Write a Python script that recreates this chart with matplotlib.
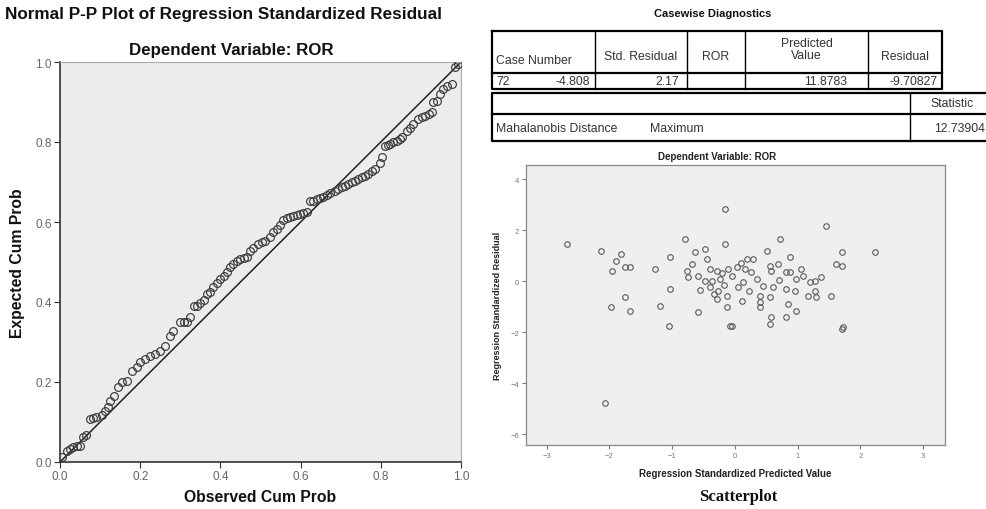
import matplotlib
matplotlib.use("Agg")
import matplotlib.pyplot as plt

plt.rcParams['font.family'] = ['Liberation Sans', 'DejaVu Sans']

# normal P-P plot
pp_observed = [0.004, 0.017, 0.025, 0.033, 0.042, 0.050, 0.058, 0.064, 0.075, 0.083,
               0.091, 0.104, 0.112, 0.119, 0.125, 0.135, 0.145, 0.154, 0.166, 0.179,
               0.191, 0.200, 0.212, 0.224, 0.237, 0.249, 0.262, 0.274, 0.283, 0.299,
               0.308, 0.316, 0.324, 0.333, 0.341, 0.349, 0.358, 0.366, 0.374, 0.382,
               0.391, 0.399, 0.408, 0.416, 0.424, 0.432, 0.441, 0.449, 0.458, 0.466,
               0.474, 0.482, 0.495, 0.503, 0.511, 0.524, 0.532, 0.540, 0.548, 0.557,
               0.565, 0.574, 0.582, 0.590, 0.599, 0.607, 0.615, 0.623, 0.632, 0.640,
               0.648, 0.657, 0.665, 0.673, 0.686, 0.694, 0.702, 0.711, 0.719, 0.727,
               0.736, 0.744, 0.752, 0.761, 0.769, 0.778, 0.786, 0.798, 0.802, 0.810,
               0.818, 0.823, 0.831, 0.840, 0.848, 0.852, 0.865, 0.873, 0.881, 0.894,
               0.902, 0.910, 0.919, 0.927, 0.931, 0.939, 0.948, 0.956, 0.965, 0.977,
               0.985, 0.993]
pp_expected = [0.012, 0.028, 0.033, 0.037, 0.039, 0.041, 0.062, 0.068, 0.108, 0.109,
               0.112, 0.118, 0.128, 0.138, 0.153, 0.166, 0.187, 0.199, 0.203, 0.228,
               0.237, 0.249, 0.258, 0.264, 0.270, 0.278, 0.291, 0.316, 0.328, 0.349,
               0.349, 0.350, 0.362, 0.389, 0.391, 0.397, 0.404, 0.420, 0.426, 0.437,
               0.447, 0.458, 0.465, 0.476, 0.487, 0.495, 0.503, 0.508, 0.510, 0.512,
               0.528, 0.534, 0.545, 0.549, 0.553, 0.562, 0.574, 0.583, 0.592, 0.605,
               0.609, 0.612, 0.616, 0.618, 0.620, 0.623, 0.625, 0.652, 0.653, 0.657,
               0.659, 0.662, 0.667, 0.672, 0.678, 0.683, 0.687, 0.691, 0.695, 0.699,
               0.703, 0.708, 0.712, 0.716, 0.720, 0.727, 0.733, 0.748, 0.762, 0.791,
               0.793, 0.795, 0.799, 0.803, 0.808, 0.812, 0.828, 0.836, 0.845, 0.858,
               0.862, 0.866, 0.870, 0.874, 0.899, 0.903, 0.920, 0.932, 0.941, 0.945,
               0.987, 0.995]
pp_ticks = [0.0, 0.2, 0.4, 0.6, 0.8, 1.0]

# residuals vs predicted scatter
sc_predicted = [-2.68, -2.13, -1.81, -1.89, -1.75, -1.67, -1.96, -1.75, -1.97, -1.67,
                -1.28, -1.04, -1.20, -1.04, -1.05, -0.59, -0.80, -0.64, -0.48, -0.44,
                -0.69, -0.77, -0.75, -0.59, -0.40, -0.29, -0.37, -0.48, -0.24, -0.40,
                -0.27, -0.29, -0.13, -0.13, -0.11, -0.16, -0.16, -0.08, 0.72, 0.51,
                0.19, 0.29, 0.88, 0.03, 0.16, 0.56, 0.69, 0.58, 0.82, 0.88,
                1.06, 1.09, 0.98, 1.20, 1.28, 1.38, 0.35, 0.13, 0.45, 0.61,
                0.82, 0.96, 1.16, 1.28, 1.30, 1.54, 0.40, 0.56, 0.40, 0.11,
                0.85, 0.98, 0.40, 0.58, 0.56, 0.82, -0.05, 1.73, 1.46, 1.70,
                2.23, 1.62, 1.70, -2.07, 1.70, -0.20, -0.05, 0.05, -0.18, 0.25,
                -0.33, 0.22, -0.55, 0.70, 0.10]
sc_residual = [1.45, 1.19, 1.06, 0.80, 0.55, 0.55, 0.40, -0.63, -1.02, -1.16,
               0.47, 0.94, -0.97, -0.31, -1.76, -1.22, 1.65, 1.13, 1.25, 0.86,
               0.67, 0.40, 0.16, 0.20, 0.47, 0.40, 0.01, 0.01, 0.08, -0.24,
               -0.38, -0.71, -0.58, -1.02, 0.47, 1.45, 2.82, -1.75, 1.65, 1.19,
               0.86, 0.86, 0.94, 0.55, 0.47, 0.60, 0.67, 0.40, 0.35, 0.35,
               0.47, 0.21, 0.08, -0.04, 0.01, 0.16, 0.08, -0.04, -0.18, -0.24,
               -0.31, -0.38, -0.58, -0.38, -0.63, -0.58, -0.58, -0.63, -0.82, -0.77,
               -0.90, -1.16, -1.02, -1.42, -1.69, -1.42, -1.75, -1.81, 2.17, 1.13,
               1.13, 0.67, 0.60, -4.80, -1.88, 0.30, 0.20, -0.25, -0.15, 0.35,
               -0.50, -0.40, -0.35, 0.05, 0.70]
sc_xticks = [-3, -2, -1, 0, 1, 2, 3]
sc_yticks = [-6, -4, -2, 0, 2, 4]

# tables
case_header = ["Case Number", "Std. Residual", "ROR", "Predicted\nValue", "Residual"]
case_row = ["72", "-4.808", "2.17", "11.8783", "-9.70827"]
stat_header = ["", "Statistic"]
stat_label = ["Mahalanobis Distance", "Maximum"]
stat_value = "12.73904"

W, H = 986, 510
fig = plt.figure(figsize=(W / 100, H / 100), dpi=100)
fig.patch.set_facecolor("white")

# overlay in pixel coords for text and tables
ov = fig.add_axes([0, 0, 1, 1])
ov.set_xlim(0, W)
ov.set_ylim(H, 0)
ov.axis("off")

# ---- P-P plot ----
ax = fig.add_axes([60 / W, 1 - 463 / H, 401 / W, 400 / H])
ax.set_facecolor("#ececec")
ax.plot([0, 1], [0, 1], color="#222222", lw=1.1, zorder=2)
ax.plot(pp_observed, pp_expected, "o", mfc="none", mec="#3a3a3a", ms=5.6, mew=0.85, zorder=3)
ax.set_xlim(0, 1)
ax.set_ylim(0, 1)
ax.set_xticks(pp_ticks)
ax.set_yticks(pp_ticks)
ax.set_xticklabels([f"{t:.1f}" for t in pp_ticks])
ax.set_yticklabels([f"{t:.1f}" for t in pp_ticks])
ax.tick_params(labelsize=8.5, labelcolor="#666666", length=4, color="#333333", pad=2)
for s in ["top", "right"]:
    ax.spines[s].set_color("#aaaaaa")
for s in ["left", "bottom"]:
    ax.spines[s].set_color("#222222")
    ax.spines[s].set_linewidth(1.1)

ov.text(5, 14, "Normal P-P Plot of Regression Standardized Residual", fontsize=12.3,
        fontweight="bold", va="center", ha="left", color="#111111")
ov.text(231, 50, "Dependent Variable: ROR", fontsize=12.2, fontweight="bold",
        va="center", ha="center", color="#111111")
ov.text(18, 263, "Expected Cum Prob", fontsize=11.3, fontweight="bold", rotation=90,
        va="center", ha="center", color="#111111")
ov.text(260, 498, "Observed Cum Prob", fontsize=11.3, fontweight="bold",
        va="center", ha="center", color="#111111")

# ---- Casewise Diagnostics table ----
ov.text(713, 14, "Casewise Diagnostics", fontsize=8, fontweight="bold",
        ha="center", va="center", color="#111111")
cols = [492, 595, 687, 745, 868, 942]
rows = [32, 74, 90]
ov.plot([cols[0], cols[-1], cols[-1], cols[0], cols[0]],
        [rows[0], rows[0], rows[-1], rows[-1], rows[0]], color="black", lw=1.6)
ov.plot([cols[0], cols[-1]], [rows[1], rows[1]], color="black", lw=1.6)
for c in cols[1:-1]:
    ov.plot([c, c], [rows[0], rows[-1]], color="black", lw=1.0)
hdr_y = [61, 57, 57, 50, 57]
for i, h in enumerate(case_header):
    if i == 0:
        ov.text(cols[0] + 4, hdr_y[i], h, fontsize=8.8, ha="left", va="center", color="#333333")
    else:
        ov.text((cols[i] + cols[i + 1]) / 2, hdr_y[i], h, fontsize=8.8, ha="center",
                va="center", color="#333333", linespacing=1.1)
val_x = [496, 590, 679, 847, 938]
for i, v in enumerate(case_row):
    ov.text(val_x[i], 82, v, fontsize=8.8, ha="left" if i == 0 else "right",
            va="center", color="#333333")

# ---- Mahalanobis table ----
cols2 = [492, 910, 995]
rows2 = [94, 115, 142]
ov.plot([cols2[-1], cols2[0], cols2[0], cols2[-1]],
        [rows2[0], rows2[0], rows2[-1], rows2[-1]], color="black", lw=1.6, clip_on=False)
ov.plot([cols2[0], cols2[-1]], [rows2[1], rows2[1]], color="black", lw=1.6)
ov.plot([cols2[1], cols2[1]], [rows2[0], rows2[-1]], color="black", lw=1.0)
ov.text(952, 104, stat_header[1], fontsize=8.8, ha="center", va="center", color="#333333")
ov.text(496, 129, stat_label[0], fontsize=8.8, ha="left", va="center", color="#333333")
ov.text(650, 129, stat_label[1], fontsize=8.8, ha="left", va="center", color="#333333")
ov.text(934, 129, stat_value, fontsize=8.8, ha="left", va="center", color="#333333")

# ---- scatterplot ----
ax2 = fig.add_axes([526 / W, 1 - 446 / H, 419 / W, 280 / H])
ax2.set_facecolor("#efefef")
ax2.plot(sc_predicted, sc_residual, "o", mfc="none", mec="#5a5a5a", ms=4.0, mew=0.8)
ax2.set_xlim(-3.33, 3.35)
ax2.set_ylim(-6.43, 4.55)
ax2.set_xticks(sc_xticks)
ax2.set_yticks(sc_yticks)
ax2.tick_params(labelsize=5.5, labelcolor="#777777", length=3, color="#777777", pad=2)
for s in ax2.spines.values():
    s.set_color("#888888")
    s.set_linewidth(0.9)

ov.text(717, 157, "Dependent Variable: ROR", fontsize=7, fontweight="bold",
        ha="center", va="center", color="#222222")
ov.text(497, 306, "Regression Standardized Residual", fontsize=6.5, fontweight="bold",
        rotation=90, ha="center", va="center", color="#222222")
ov.text(735, 474, "Regression Standardized Predicted Value", fontsize=7,
        fontweight="bold", ha="center", va="center", color="#222222")
ov.text(738, 497, "Scatterplot", fontsize=12, fontweight="bold",
        family=["Liberation Serif", "DejaVu Serif"], ha="center", va="center",
        color="#111111")

fig.savefig("out.png", dpi=100, facecolor="white")
